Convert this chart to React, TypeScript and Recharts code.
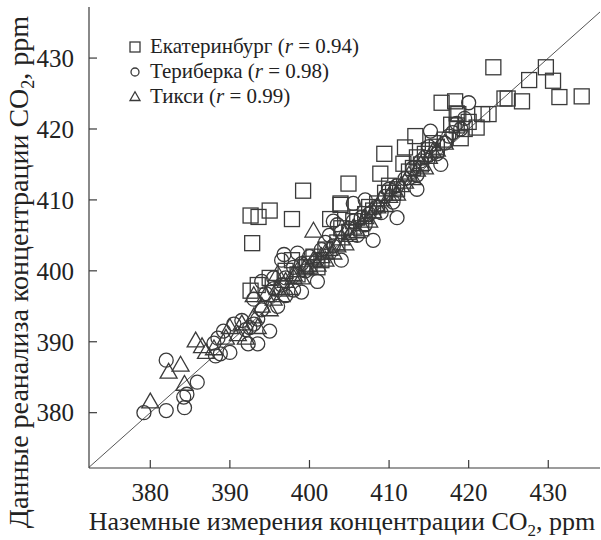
import React from 'react'
import {
  ScatterChart,
  Scatter,
  XAxis,
  YAxis,
  ReferenceLine,
  Legend,
} from 'recharts'

// [ground measurement, reanalysis], ppm
const ekaterinburg: [number, number][] = [
  [392.6, 397.2], [393.5, 398], [395, 399], [396.5, 397.5], [397, 400], [397.8, 401.5],
  [398.5, 399.5], [399.5, 400.5], [400, 401], [400.5, 402], [401, 400.5], [401.5, 401.5],
  [402, 403], [402.6, 407.3], [403.5, 404], [403.9, 409.3], [404, 406], [404.9, 412.3],
  [405, 405.5], [405.5, 407], [406, 407.5], [406.5, 406], [407, 408], [407.5, 409],
  [408, 408.5], [408.5, 409.5], [408.9, 413.7], [409.5, 411], [409.4, 416.5], [410, 412],
  [410.5, 411], [411, 411.5], [411.8, 415.1], [412, 417.4], [412.5, 414], [413, 414.5],
  [413.3, 419], [413.5, 416], [414, 415], [414.5, 416.5], [415, 417], [415.5, 418],
  [416, 417.5], [416.6, 423.7], [417, 418.5], [417.8, 420.6], [418.3, 423.9], [418.5, 422.2],
  [418.5, 420.5], [418.7, 422.1], [419, 418.7], [419.5, 420], [420, 421], [421, 420.2],
  [421.7, 422.1], [422.5, 422.1], [423.1, 428.7], [424.5, 424.3], [424.9, 424.3], [426.7, 423.9],
  [427.6, 426.9], [429.7, 428.7], [430.6, 426.8], [431.4, 424.5], [434.2, 424.6],
  [392.6, 407.8], [393.6, 407.6], [392.8, 403.9], [395, 408.5], [397.8, 407.3], [399.2, 411.3],
  [403.9, 409.5],
]

const teriberka: [number, number][] = [
  [379.2, 380], [382, 380.3], [384.3, 380.7], [384.2, 382.2], [384.6, 382.6], [382, 387.4],
  [385.9, 384.3], [388.2, 388], [388.8, 388.3], [388, 389.8], [392.3, 389.7], [393.5, 389.7],
  [389.2, 391.5], [390.5, 392.5], [391.5, 393], [392, 391.7], [393.5, 393.2], [394, 394.5],
  [393, 396], [394.5, 396.8], [395.5, 397.5], [396.5, 398], [396, 395], [397, 396.5],
  [398, 397.3], [397, 399], [396.5, 401.5], [396.8, 402.3], [398, 400.5], [399, 401],
  [399.5, 400], [400, 402], [401, 401.5], [401.5, 403], [402, 404], [402.5, 405],
  [403, 403.5], [403.5, 406.5], [404, 405.5], [405, 406], [405.5, 407], [406, 405],
  [406.5, 407.5], [407, 406.5], [407.5, 408], [408, 404.3], [408.5, 409], [409, 408.2],
  [409.5, 410.5], [410, 411.5], [410.5, 409.7], [411, 412], [412, 413], [413, 414.5],
  [413.5, 413.5], [414, 415.5], [414.5, 416], [415, 417.5], [415.2, 419.7], [416, 416.5],
  [417, 418], [417.5, 419], [418, 419.5], [418.5, 420.8], [419, 420], [419.5, 421.5],
  [420, 423.7], [416.5, 415], [413.5, 411.5], [411, 407.5], [404, 401.5], [401, 398.5],
  [399, 397], [395, 391.5], [392.5, 392], [390, 388.5], [388.5, 390.5], [395.5, 399],
  [394, 398.5], [393, 392.5], [403, 407], [405.5, 409.5], [407, 410], [398.5, 402.5],
]

const tiksi: [number, number][] = [
  [380, 381.5], [382.3, 385.7], [383.8, 386.7], [384.3, 384], [385.7, 390.1], [386.5, 389.3],
  [388, 389], [389.5, 390.5], [391, 391], [391.5, 392.5], [392, 390.5], [393, 393.5],
  [393.5, 392], [394, 395], [394.5, 396.5], [395, 394.5], [395.5, 396], [396, 397.5],
  [396.5, 396.5], [397, 398.5], [397.5, 397.5], [398, 399.5], [398.5, 400], [399, 399],
  [399.5, 400.5], [400, 400.5], [400.5, 401.5], [401, 400.8], [401.5, 402], [402, 401.5],
  [402.5, 403], [403, 402.5], [403.5, 403.5], [404, 404.5], [404.5, 403.8], [405, 405],
  [405.5, 406], [406, 405.5], [406.5, 406.5], [407, 407.5], [407.5, 407], [408, 408.3],
  [408.5, 409], [409, 410], [409.5, 409.2], [410, 410.5], [410.5, 411.5], [411, 410.8],
  [411.5, 412], [412, 412.5], [412.5, 413.5], [413, 413], [413.5, 414.2], [414, 415],
  [414.5, 414.5], [415, 416], [415.5, 416.8], [416, 417], [417, 418], [400.5, 405.6],
  [396, 399.5], [393, 396.5], [390, 392], [387, 388.5], [398, 399], [402, 402.5],
]

const ticks = [380, 390, 400, 410, 420, 430]
const xDomain = [372.3, 436.5]
const yDomain = [372.2, 437.2]
const diagonal = [372.3, 437]

const series = [
  { name: 'Екатеринбург', r: '0.94', marker: 'square', data: ekaterinburg },
  { name: 'Териберка', r: '0.98', marker: 'circle', data: teriberka },
  { name: 'Тикси', r: '0.99', marker: 'triangle', data: tiksi },
]

const INK = '#3a3a3a'
const FONT = '"Liberation Serif", "Times New Roman", serif'

function Marker({ kind, cx, cy, s }: { kind: string; cx: number; cy: number; s: number }) {
  if (kind === 'square') {
    return <rect x={cx - s / 2} y={cy - s / 2} width={s} height={s} fill="none" stroke={INK} strokeWidth={1.3} />
  }
  if (kind === 'circle') {
    return <circle cx={cx} cy={cy} r={s / 2} fill="none" stroke={INK} strokeWidth={1.3} />
  }
  const h = s * 0.87
  const pts = `${cx},${cy - h * 0.6} ${cx - s / 2},${cy + h * 0.4} ${cx + s / 2},${cy + h * 0.4}`
  return <polygon points={pts} fill="none" stroke={INK} strokeWidth={1.3} strokeLinejoin="miter" />
}

const sizes: Record<string, number> = { square: 15, circle: 14, triangle: 17 }

function XTick({ x, y, payload }: any) {
  return (
    <g>
      <line x1={x} y1={y} x2={x} y2={y - 8} stroke={INK} strokeWidth={1.2} />
      <text x={x} y={y + 33} textAnchor="middle" fontSize={25} fontFamily={FONT} fill="#222">
        {payload.value}
      </text>
    </g>
  )
}

function YTick({ x, y, payload }: any) {
  return (
    <g>
      <line x1={x} y1={y} x2={x + 8} y2={y} stroke={INK} strokeWidth={1.2} />
      <text x={x - 15} y={y} dy="0.35em" textAnchor="end" fontSize={25} fontFamily={FONT} fill="#222">
        {payload.value}
      </text>
    </g>
  )
}

function XTitle() {
  return (
    <text x={342} y={530} textAnchor="middle" fontSize={26} fontFamily={FONT} fill="#222">
      Наземные измерения концентрации CO
      <tspan fontSize={17} dy={6}>2</tspan>
      <tspan dy={-6}>, ppm</tspan>
    </text>
  )
}

function YTitle() {
  return (
    <text
      x={0}
      y={0}
      transform="translate(28, 272) rotate(-90)"
      textAnchor="middle"
      fontSize={28}
      fontFamily={FONT}
      fill="#222"
    >
      Данные реанализа концентрации CO
      <tspan fontSize={18} dy={6}>2</tspan>
      <tspan dy={-6}>, ppm</tspan>
    </text>
  )
}

function LegendBox() {
  return (
    <div style={{ fontFamily: FONT, fontSize: 21, color: '#222', lineHeight: '25px' }}>
      {series.map((s) => (
        <div key={s.name} style={{ display: 'flex', alignItems: 'center', height: 25, whiteSpace: 'nowrap' }}>
          <svg width={22} height={20} style={{ marginRight: 4 }}>
            <Marker kind={s.marker} cx={11} cy={10} s={s.marker === 'circle' ? 8 : 10} />
          </svg>
          <span>
            {s.name} (<i>r</i> = {s.r})
          </span>
        </div>
      ))}
    </div>
  )
}

export default function App() {
  return (
    <div style={{ position: 'absolute', left: 0, top: 0, background: '#fff' }}>
      <ScatterChart width={601} height={540} margin={{ top: 7, right: 1, left: 0, bottom: 0 }}>
        <XAxis
          type="number"
          dataKey="x"
          domain={xDomain}
          ticks={ticks}
          height={72}
          tickLine={false}
          tickSize={0}
          tickMargin={0}
          tick={<XTick />}
          axisLine={{ stroke: INK, strokeWidth: 1.2 }}
          allowDataOverflow
          label={<XTitle />}
        />
        <YAxis
          type="number"
          dataKey="y"
          domain={yDomain}
          ticks={ticks}
          width={89}
          tickLine={false}
          tickSize={0}
          tickMargin={0}
          tick={<YTick />}
          axisLine={{ stroke: INK, strokeWidth: 1.2 }}
          allowDataOverflow
          label={<YTitle />}
        />
        <ReferenceLine
          segment={[
            { x: diagonal[0], y: diagonal[0] },
            { x: diagonal[1], y: diagonal[1] },
          ]}
          stroke="#555"
          strokeWidth={1}
          ifOverflow="hidden"
        />
        {series.map((s) => (
          <Scatter
            key={s.name}
            name={s.name}
            data={s.data.map(([x, y]) => ({ x, y }))}
            isAnimationActive={false}
            shape={(p: any) => <Marker kind={s.marker} cx={p.cx} cy={p.cy} s={sizes[s.marker]} />}
          />
        ))}
        <Legend
          content={<LegendBox />}
          layout="vertical"
          verticalAlign="middle"
          align="center"
          wrapperStyle={{ left: 124, top: 34, width: 'auto' }}
        />
      </ScatterChart>
    </div>
  )
}
